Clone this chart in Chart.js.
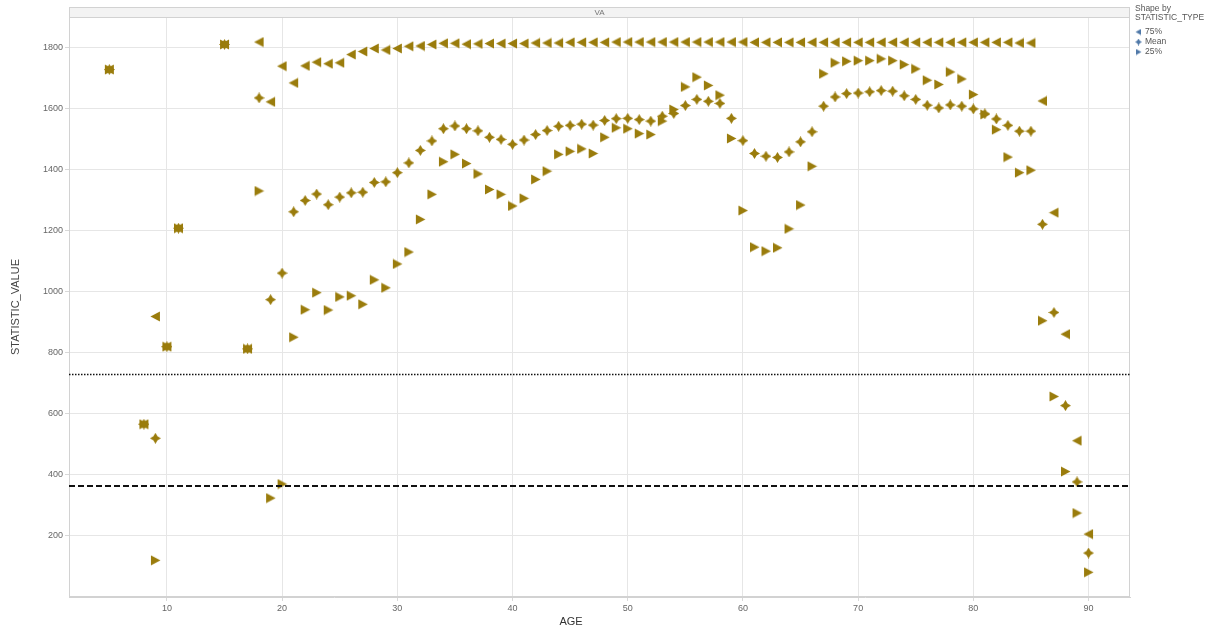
<!DOCTYPE html>
<html>
<head>
<meta charset="utf-8">
<title>VA - STATISTIC_VALUE by AGE</title>
<script src="https://cdn.jsdelivr.net/npm/chart.js@4.4.1/dist/chart.umd.min.js"></script>
<style>
    html, body { margin: 0; padding: 0; background: #ffffff; }
    #wrap { width: 1207px; height: 631px; }
</style>
</head>
<body>
<div id="wrap"><canvas id="chart" width="1207" height="631"></canvas></div>
<script>
// Ages with observations
const ages = [5, 8, 9, 10, 11, 15, 17,
    18, 19, 20, 21, 22, 23, 24, 25, 26, 27, 28, 29, 30,
    31, 32, 33, 34, 35, 36, 37, 38, 39, 40,
    41, 42, 43, 44, 45, 46, 47, 48, 49, 50,
    51, 52, 53, 54, 55, 56, 57, 58, 59, 60,
    61, 62, 63, 64, 65, 66, 67, 68, 69, 70,
    71, 72, 73, 74, 75, 76, 77, 78, 79, 80,
    81, 82, 83, 84, 85, 86, 87, 88, 89, 90];

// STATISTIC_TYPE = 75%
const p75Values = [1728, 566, 919, 820, 1208, 1810, 813,
    1818, 1622, 1739, 1684, 1740, 1752, 1747, 1750, 1777, 1787, 1797, 1792, 1797,
    1804, 1805, 1810, 1814, 1814, 1811, 1812, 1813, 1813, 1813,
    1813, 1815, 1815, 1815, 1817, 1817, 1817, 1817, 1818, 1818,
    1818, 1818, 1818, 1818, 1818, 1818, 1818, 1818, 1818, 1818,
    1817, 1817, 1817, 1817, 1817, 1817, 1817, 1817, 1817, 1817,
    1817, 1817, 1817, 1817, 1817, 1817, 1817, 1817, 1817, 1817,
    1817, 1817, 1817, 1815, 1815, 1625, 1259, 861, 512, 206];

// STATISTIC_TYPE = Mean
const meanValues = [1728, 566, 520, 820, 1208, 1810, 813,
    1635, 974, 1061, 1262, 1299, 1320, 1285, 1310, 1324, 1326, 1358, 1360, 1390,
    1422, 1463, 1494, 1534, 1543, 1534, 1527, 1506, 1499, 1483,
    1497, 1515, 1528, 1542, 1545, 1549, 1546, 1561, 1567, 1568,
    1564, 1559, 1575, 1584, 1610, 1630, 1624, 1617, 1568, 1495,
    1453, 1444, 1440, 1458, 1491, 1524, 1608, 1638, 1649, 1651,
    1655, 1659, 1657, 1642, 1630, 1611, 1602, 1612, 1608, 1599,
    1583, 1566, 1545, 1526, 1526, 1221, 932, 627, 377, 144];

// STATISTIC_TYPE = 25%
const p25Values = [1728, 566, 120, 820, 1208, 1810, 813,
    1330, 324, 370, 851, 941, 997, 940, 983, 987, 959, 1039, 1013, 1091,
    1130, 1237, 1319, 1426, 1450, 1420, 1386, 1335, 1319, 1281,
    1306, 1368, 1395, 1450, 1460, 1468, 1453, 1506, 1537, 1534,
    1518, 1515, 1559, 1597, 1671, 1703, 1676, 1644, 1502, 1266,
    1146, 1133, 1144, 1206, 1284, 1411, 1714, 1750, 1755, 1757,
    1757, 1763, 1757, 1744, 1730, 1693, 1679, 1720, 1697, 1646,
    1581, 1531, 1441, 1390, 1398, 905, 657, 411, 275, 81];

const xTickValues = [10, 20, 30, 40, 50, 60, 70, 80, 90];
const yTickValues = [200, 400, 600, 800, 1000, 1200, 1400, 1600, 1800];

// Reference lines (days): two years dotted, one year dashed
const refDotted = 730;
const refDashed = 365;

const panelLabel = 'VA';
const legendTitle = ['Shape by', 'STATISTIC_TYPE'];
const legendLabels = ['75%', 'Mean', '25%'];

const markColor = '#9a7c0c';
const legendColor = '#4f78a8';
const fontFamily = 'Arial, "Liberation Sans", Helvetica, sans-serif';

// Marker images: left triangle, 4-point star, right triangle
function makeMarker(kind, color, size) {
    const c = document.createElement('canvas');
    c.width = size;
    c.height = size;
    const g = c.getContext('2d');
    const s = size;
    g.fillStyle = color;
    g.beginPath();
    if (kind === 'left') {
        g.moveTo(0.5, s / 2);
        g.lineTo(s - 1, 0.5);
        g.lineTo(s - 1, s - 0.5);
    } else if (kind === 'right') {
        g.moveTo(s - 0.5, s / 2);
        g.lineTo(1, 0.5);
        g.lineTo(1, s - 0.5);
    } else {
        const m = s / 2, r = s * 0.19;
        g.moveTo(m, 0);
        g.lineTo(m + r, m - r);
        g.lineTo(s, m);
        g.lineTo(m + r, m + r);
        g.lineTo(m, s);
        g.lineTo(m - r, m + r);
        g.lineTo(0, m);
        g.lineTo(m - r, m - r);
    }
    g.closePath();
    g.fill();
    return c;
}

const markers = {
    p75: makeMarker('left', markColor, 11),
    mean: makeMarker('star', markColor, 11),
    p25: makeMarker('right', markColor, 11)
};
const legendMarkers = [
    makeMarker('left', legendColor, 7),
    makeMarker('star', legendColor, 7),
    makeMarker('right', legendColor, 7)
];

function toPoints(values) {
    return ages.map((a, i) => ({ x: a, y: values[i] }));
}

// Panel strip, plot frame, reference lines, axis label and legend
const decorPlugin = {
    id: 'decor',
    beforeDatasetsDraw(chart) {
        const { ctx, chartArea: a } = chart;
        ctx.save();
        ctx.fillStyle = '#f3f3f3';
        ctx.fillRect(a.left, 7, a.right - a.left, a.top - 7);
        ctx.strokeStyle = '#d2d2d2';
        ctx.lineWidth = 1;
        ctx.strokeRect(a.left + 0.5, 7.5, a.right - a.left - 1, a.top - 7);
        ctx.strokeRect(a.left + 0.5, a.top + 0.5, a.right - a.left - 1, a.bottom - a.top - 1);
        ctx.fillStyle = '#777';
        ctx.font = '8px ' + fontFamily;
        ctx.textAlign = 'center';
        ctx.textBaseline = 'middle';
        ctx.fillText(panelLabel, (a.left + a.right) / 2, 12.5);
        ctx.restore();
    },
    afterDatasetsDraw(chart) {
        const { ctx, chartArea: a, scales } = chart;
        ctx.save();
        ctx.strokeStyle = '#111';

        let y = Math.round(scales.y.getPixelForValue(refDotted)) + 0.5;
        ctx.lineWidth = 1.5;
        ctx.setLineDash([1.5, 1.5]);
        ctx.beginPath();
        ctx.moveTo(a.left, y);
        ctx.lineTo(a.right, y);
        ctx.stroke();

        y = Math.round(scales.y.getPixelForValue(refDashed));
        ctx.lineWidth = 2;
        ctx.setLineDash([6, 3]);
        ctx.beginPath();
        ctx.moveTo(a.left, y);
        ctx.lineTo(a.right, y);
        ctx.stroke();
        ctx.setLineDash([]);

        // x axis title
        ctx.fillStyle = '#333';
        ctx.font = '11px ' + fontFamily;
        ctx.textAlign = 'center';
        ctx.textBaseline = 'middle';
        ctx.fillText('AGE', 571, 622);

        // legend
        const lx = a.right + 5;
        ctx.textAlign = 'left';
        ctx.fillStyle = '#555';
        ctx.font = '8.5px ' + fontFamily;
        ctx.fillText(legendTitle[0], lx, 9);
        ctx.fillText(legendTitle[1], lx, 18);
        legendLabels.forEach((label, i) => {
            const ly = 32 + i * 10;
            const m = legendMarkers[i];
            ctx.drawImage(m, lx, ly - m.height / 2);
            ctx.fillStyle = '#555';
            ctx.fillText(label, lx + 10, ly);
        });
        ctx.restore();
    }
};

const tickFont = { family: fontFamily, size: 9 };

const chart = new Chart(document.getElementById('chart').getContext('2d'), {
    type: 'scatter',
    data: {
        datasets: [
            { label: legendLabels[0], data: toPoints(p75Values), pointStyle: markers.p75 },
            { label: legendLabels[1], data: toPoints(meanValues), pointStyle: markers.mean },
            { label: legendLabels[2], data: toPoints(p25Values), pointStyle: markers.p25 }
        ]
    },
    options: {
        responsive: false,
        animation: false,
        layout: { padding: { top: 17, right: 77, bottom: 0, left: 0 } },
        plugins: {
            legend: { display: false },
            tooltip: { enabled: false }
        },
        scales: {
            x: {
                type: 'linear',
                min: 1.5,
                max: 93.6,
                afterBuildTicks: (scale) => { scale.ticks = xTickValues.map(v => ({ value: v })); },
                afterFit: (scale) => { scale.height = 34; },
                grid: { color: '#e6e6e6', tickLength: 4, tickColor: '#d8d8d8' },
                border: { color: '#d2d2d2' },
                ticks: { font: tickFont, color: '#666', padding: 2, maxRotation: 0 }
            },
            y: {
                min: 0,
                max: 1900,
                afterBuildTicks: (scale) => { scale.ticks = yTickValues.map(v => ({ value: v })); },
                afterFit: (scale) => { scale.width = 69; },
                grid: { color: '#e6e6e6', tickLength: 4, tickColor: '#d8d8d8' },
                border: { color: '#d2d2d2' },
                ticks: { font: tickFont, color: '#666', padding: 2, callback: (v) => String(v) },
                title: {
                    display: true,
                    text: 'STATISTIC_VALUE',
                    color: '#444',
                    font: { family: fontFamily, size: 11 },
                    padding: { top: 9, bottom: 0 }
                }
            }
        },
        elements: {
            point: { radius: 5, hoverRadius: 5 }
        }
    },
    plugins: [decorPlugin]
});
</script>
</body>
</html>
